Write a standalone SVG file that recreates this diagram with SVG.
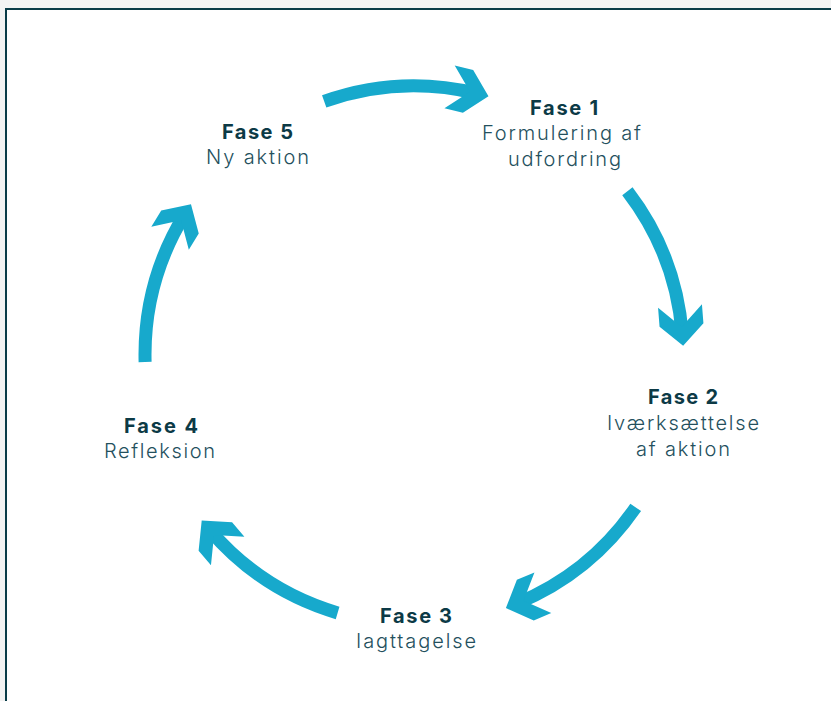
<svg xmlns="http://www.w3.org/2000/svg" width="831" height="701" viewBox="0 0 831 701">
<style>
.arc{fill:none;stroke:#17a9cc;stroke-width:13;stroke-linecap:butt}
text{font-variant-ligatures:none;text-anchor:middle}
.h{font-family:Inter,Lato,sans-serif;font-weight:700;font-size:20px;fill:#0c3a46}
.t{font-family:Inter,Lato,sans-serif;font-weight:300;font-size:20px;fill:#24505d}
</style>
<defs>
<marker id="head" markerUnits="userSpaceOnUse" viewBox="0 0 44 46" markerWidth="44" markerHeight="46" refX="30" refY="23" orient="auto">
<path d="M42,23 L21,45 L2,45 L23,23 L2,1 L21,1 Z" fill="#17a9cc"/>
</marker>
</defs>
<rect x="0" y="0" width="831" height="701" fill="#f3f3f3"/>
<rect x="6" y="9" width="900" height="800" fill="#ffffff" stroke="#0a3c48" stroke-width="2"/>
<g id="connectors">
<path class="arc" marker-end="url(#head)" d="M324.2,101.4 A269,269 0 0,1 476.8,93.4"/>
<path class="arc" marker-end="url(#head)" d="M627.4,191.2 A269,269 0 0,1 682.2,333.9"/>
<path class="arc" marker-end="url(#head)" d="M635.7,507.4 A269,269 0 0,1 517.0,603.5"/>
<path class="arc" marker-end="url(#head)" d="M337.6,612.9 A269,269 0 0,1 209.5,529.7"/>
<path class="arc" marker-end="url(#head)" d="M145.1,362.0 A269,269 0 0,1 184.7,214.4"/>
</g>
<g id="fase1">
<text class="h" x="564" y="115" textLength="68">Fase 1</text>
<text class="t" x="561.5" y="140" textLength="159">Formulering af</text>
<text class="t" x="564.5" y="166" textLength="113">udfordring</text>
</g>
<g id="fase2">
<text class="h" x="683" y="404" textLength="70">Fase 2</text>
<text class="t" x="683" y="430" textLength="152">Iværksættelse</text>
<text class="t" x="683" y="456" textLength="94">af aktion</text>
</g>
<g id="fase3">
<text class="h" x="416" y="623" textLength="72">Fase 3</text>
<text class="t" x="416" y="648" textLength="120">Iagttagelse</text>
</g>
<g id="fase4">
<text class="h" x="161" y="433" textLength="74">Fase 4</text>
<text class="t" x="159.5" y="458" textLength="111">Refleksion</text>
</g>
<g id="fase5">
<text class="h" x="257.5" y="139" textLength="71">Fase 5</text>
<text class="t" x="257.5" y="164" textLength="103">Ny aktion</text>
</g>
</svg>
